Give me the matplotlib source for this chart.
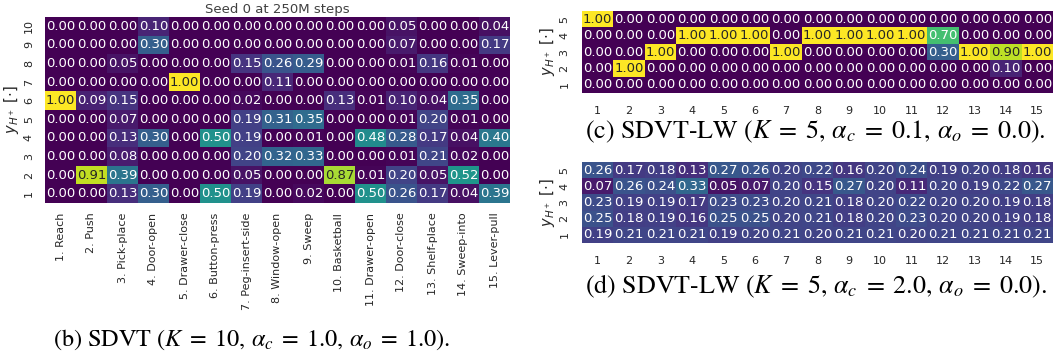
import numpy as np
import matplotlib
matplotlib.use('Agg')
import matplotlib.pyplot as plt
import seaborn as sns

# Panel (b): SDVT, K=10, rows listed from y=10 (top) to y=1 (bottom)
task_names = ['1. Reach', '2. Push', '3. Pick-place', '4. Door-open', '5. Drawer-close',
              '6. Button-press', '7. Peg-insert-side', '8. Window-open', '9. Sweep',
              '10. Basketball', '11. Drawer-open', '12. Door-close', '13. Shelf-place',
              '14. Sweep-into', '15. Lever-pull']
rows_b = ['10', '9', '8', '7', '6', '5', '4', '3', '2', '1']
vals_b = [
    [0.00, 0.00, 0.00, 0.10, 0.00, 0.00, 0.00, 0.00, 0.00, 0.00, 0.00, 0.05, 0.00, 0.00, 0.04],
    [0.00, 0.00, 0.00, 0.30, 0.00, 0.00, 0.00, 0.00, 0.00, 0.00, 0.00, 0.07, 0.00, 0.00, 0.17],
    [0.00, 0.00, 0.05, 0.00, 0.00, 0.00, 0.15, 0.26, 0.29, 0.00, 0.00, 0.01, 0.16, 0.01, 0.00],
    [0.00, 0.00, 0.00, 0.00, 1.00, 0.00, 0.00, 0.11, 0.00, 0.00, 0.00, 0.00, 0.00, 0.00, 0.00],
    [1.00, 0.09, 0.15, 0.00, 0.00, 0.00, 0.02, 0.00, 0.00, 0.13, 0.01, 0.10, 0.04, 0.35, 0.00],
    [0.00, 0.00, 0.07, 0.00, 0.00, 0.00, 0.19, 0.31, 0.35, 0.00, 0.00, 0.01, 0.20, 0.01, 0.00],
    [0.00, 0.00, 0.13, 0.30, 0.00, 0.50, 0.19, 0.00, 0.01, 0.00, 0.48, 0.28, 0.17, 0.04, 0.40],
    [0.00, 0.00, 0.08, 0.00, 0.00, 0.00, 0.20, 0.32, 0.33, 0.00, 0.00, 0.01, 0.21, 0.02, 0.00],
    [0.00, 0.91, 0.39, 0.00, 0.00, 0.00, 0.05, 0.00, 0.00, 0.87, 0.01, 0.20, 0.05, 0.52, 0.00],
    [0.00, 0.00, 0.13, 0.30, 0.00, 0.50, 0.19, 0.00, 0.02, 0.00, 0.50, 0.26, 0.17, 0.04, 0.39],
]

# Panels (c) and (d): SDVT-LW, K=5
task_nums = [str(i) for i in range(1, 16)]
rows_cd = ['5', '4', '3', '2', '1']
vals_c = [
    [1.00, 0.00, 0.00, 0.00, 0.00, 0.00, 0.00, 0.00, 0.00, 0.00, 0.00, 0.00, 0.00, 0.00, 0.00],
    [0.00, 0.00, 0.00, 1.00, 1.00, 1.00, 0.00, 1.00, 1.00, 1.00, 1.00, 0.70, 0.00, 0.00, 0.00],
    [0.00, 0.00, 1.00, 0.00, 0.00, 0.00, 1.00, 0.00, 0.00, 0.00, 0.00, 0.30, 1.00, 0.90, 1.00],
    [0.00, 1.00, 0.00, 0.00, 0.00, 0.00, 0.00, 0.00, 0.00, 0.00, 0.00, 0.00, 0.00, 0.10, 0.00],
    [0.00, 0.00, 0.00, 0.00, 0.00, 0.00, 0.00, 0.00, 0.00, 0.00, 0.00, 0.00, 0.00, 0.00, 0.00],
]
vals_d = [
    [0.26, 0.17, 0.18, 0.13, 0.27, 0.26, 0.20, 0.22, 0.16, 0.20, 0.24, 0.19, 0.20, 0.18, 0.16],
    [0.07, 0.26, 0.24, 0.33, 0.05, 0.07, 0.20, 0.15, 0.27, 0.20, 0.11, 0.20, 0.19, 0.22, 0.27],
    [0.23, 0.19, 0.19, 0.17, 0.23, 0.23, 0.20, 0.21, 0.18, 0.20, 0.22, 0.20, 0.20, 0.19, 0.18],
    [0.25, 0.18, 0.19, 0.16, 0.25, 0.25, 0.20, 0.21, 0.18, 0.20, 0.23, 0.20, 0.20, 0.19, 0.18],
    [0.19, 0.21, 0.21, 0.21, 0.19, 0.20, 0.21, 0.20, 0.21, 0.21, 0.20, 0.21, 0.21, 0.21, 0.21],
]

plt.rcParams['mathtext.fontset'] = 'stix'
txt_col = '0.15'
ylab = r'$y_{H^+}$ [$\cdot$]'

W, H = 1057, 356
fig = plt.figure(figsize=(W / 100, H / 100), dpi=100)


def px_axes(left, top, right, bottom):
    return fig.add_axes([left / W, 1 - bottom / H, (right - left) / W, (bottom - top) / H])


def draw(ax, vals, xt, yt, xrot, xpad, ypad):
    sns.heatmap(np.array(vals), ax=ax, cmap='viridis', vmin=0, vmax=1, cbar=False,
                annot=True, fmt='.2f', annot_kws={'fontsize': 9.5},
                xticklabels=xt, yticklabels=yt)
    ax.tick_params(axis='both', length=0, colors=txt_col, labelsize=8)
    ax.tick_params(axis='x', pad=xpad)
    ax.tick_params(axis='y', pad=ypad)
    plt.setp(ax.get_xticklabels(), rotation=xrot)
    plt.setp(ax.get_yticklabels(), rotation=90, va='center')
    ax.set_ylabel(ylab, fontsize=10.5, color=txt_col, labelpad=2,
                  math_fontfamily='dejavusans')


ax_b = px_axes(45, 17, 510, 203)
draw(ax_b, vals_b, task_names, rows_b, 90, 7, 8)
ax_b.set_title('Seed 0 at 250M steps', fontsize=9.5, color='0.25', pad=3)

ax_c = px_axes(582, 11, 1053, 93)
draw(ax_c, vals_c, task_nums, rows_cd, 0, 9, 9)

ax_d = px_axes(582, 162, 1053, 243)
draw(ax_d, vals_d, task_nums, rows_cd, 0, 9, 9)

cap_font = dict(family='STIXGeneral', color='black', va='center', ha='left')
fig.text(53 / W, 1 - 340 / H,
         r'(b) SDVT $(K\;=\;10,\,\alpha_c\;=\;1.0,\,\alpha_o\;=\;1.0)$.',
         fontsize=17.5, **cap_font)
fig.text(585 / W, 1 - 132 / H,
         r'(c) SDVT-LW $(K\;=\;5,\,\alpha_c\;=\;0.1,\,\alpha_o\;=\;0.0)$.',
         fontsize=18.7, **cap_font)
fig.text(585 / W, 1 - 286 / H,
         r'(d) SDVT-LW $(K\;=\;5,\,\alpha_c\;=\;2.0,\,\alpha_o\;=\;0.0)$.',
         fontsize=18.7, **cap_font)

fig.savefig('out.png', dpi=100)
